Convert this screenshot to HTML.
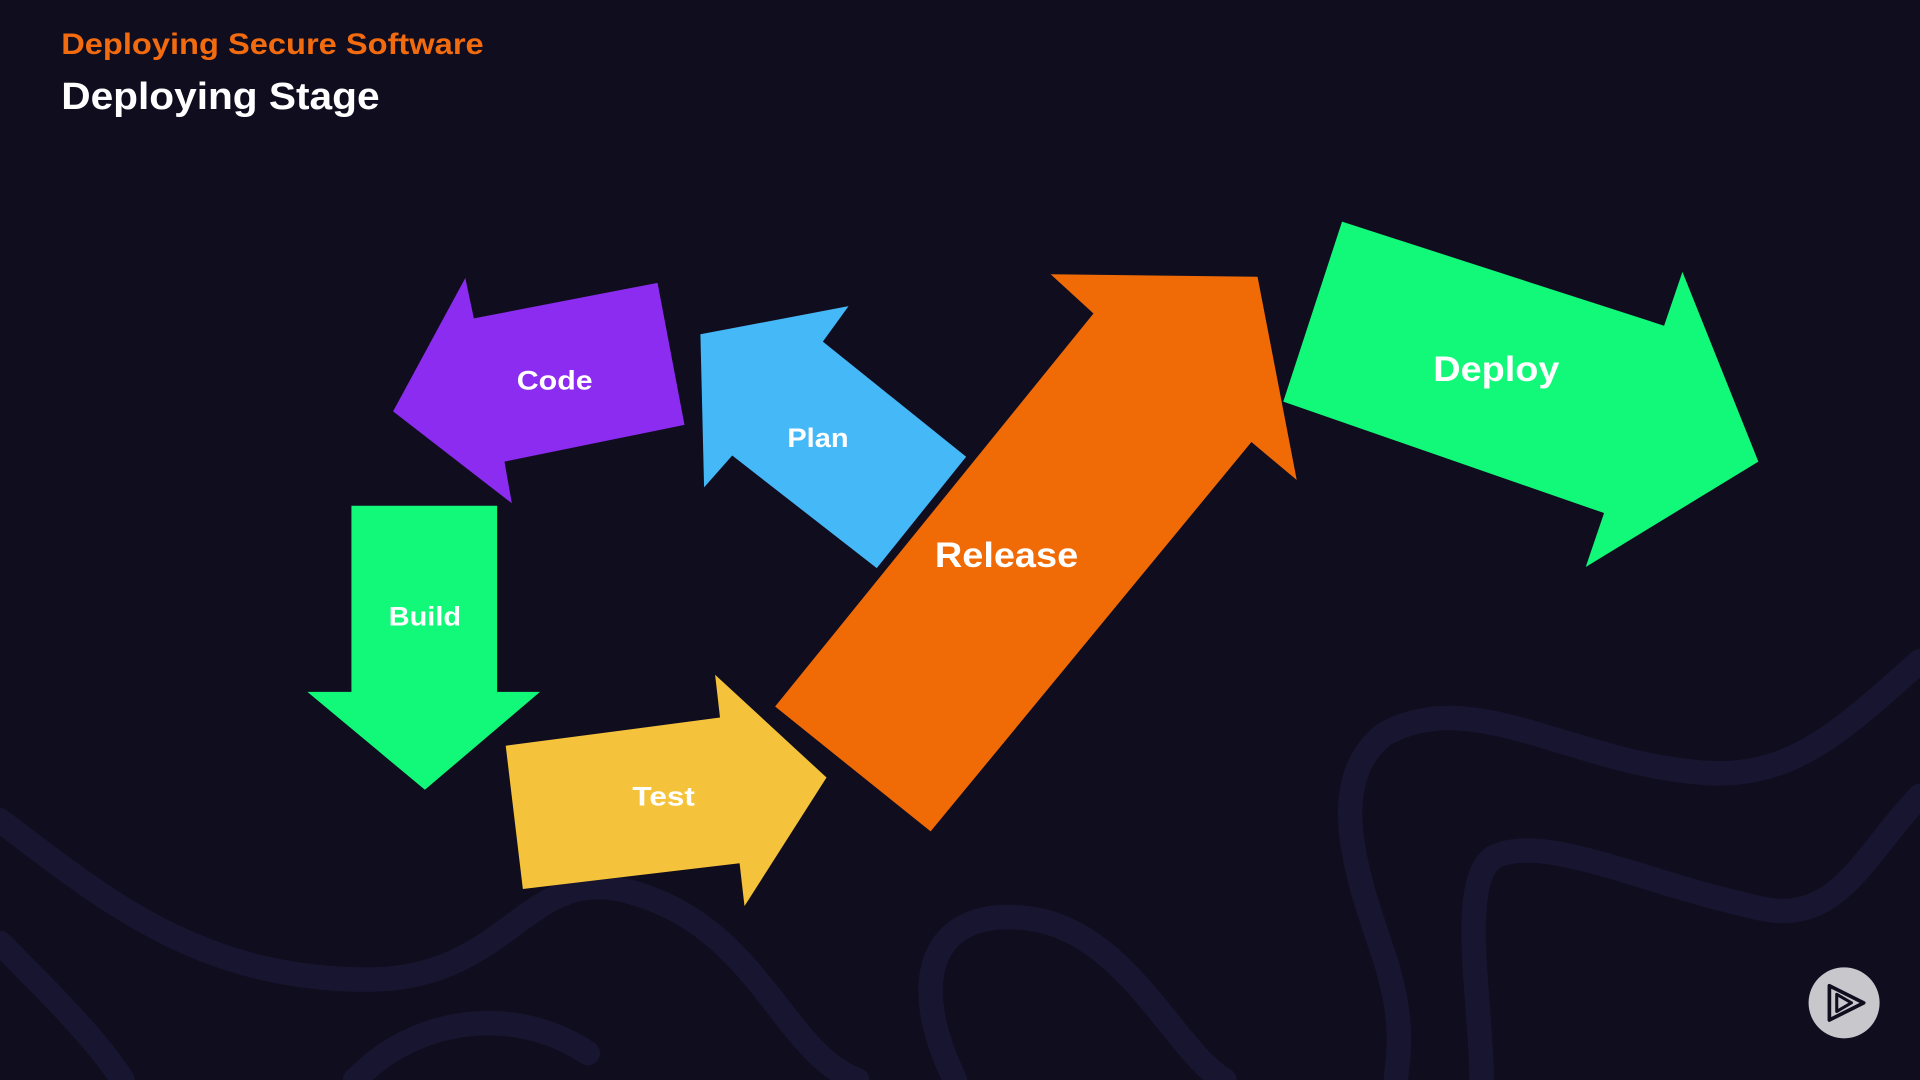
<!DOCTYPE html>
<html><head><meta charset="utf-8"><style>
html,body{margin:0;padding:0;background:#100d1f;width:1920px;height:1080px;overflow:hidden}
svg{display:block}
text{font-family:"Liberation Sans",sans-serif;font-weight:bold}
</style></head><body>
<svg width="1920" height="1080" viewBox="0 0 1568 882" xmlns="http://www.w3.org/2000/svg">
<rect width="1568" height="882" fill="#100d1f"/>
<g fill="none" stroke="#181530" stroke-width="20" stroke-linecap="round">
<path d="M0,670 C80,730 160,800 300,800 C420,800 430,700 520,730 C620,760 640,860 700,882"/>
<path d="M0,770 C40,810 80,850 100,882"/>
<path d="M290,882 C340,830 420,820 480,860"/>
<path d="M780,882 C740,800 760,740 840,750 C920,760 960,860 1000,882"/>
<path d="M1568,540 C1500,600 1460,640 1380,630 C1280,620 1200,560 1130,600 C1080,640 1110,720 1130,780 C1150,840 1140,870 1140,882"/>
<path d="M1568,650 C1520,700 1500,760 1430,740 C1340,720 1260,680 1220,700 C1190,720 1210,820 1210,882"/>
</g>
<text x="50" y="44" font-size="24" fill="#f26b0f" textLength="345" lengthAdjust="spacingAndGlyphs">Deploying Secure Software</text>
<text x="50" y="89" font-size="31" fill="#ffffff" textLength="260" lengthAdjust="spacingAndGlyphs">Deploying Stage</text>
<polygon points="380,227 321,336 418,411 412,377 559,347 537,231 387,260" fill="#8b2cf0"/>
<polygon points="572,273 693,250 672,279 789,373 716,464 598,372 575,398" fill="#45b8f8"/>
<polygon points="633,577 893,256 858,224 1027,226 1059,392 1022,361 760,679" fill="#f06a06"/>
<polygon points="1096,181 1359,266 1374,222 1436,377 1295,463 1310,419 1048,328" fill="#12f97a"/>
<polygon points="287,413 406,413 406,565 441,565 347,645 251,565 287,565" fill="#12f97a"/>
<polygon points="413,609 588,586 584,551 675,635 608,740 604,705 427,726" fill="#f5c33b"/>
<g fill="#ffffff" text-anchor="middle">
<text x="453" y="318" font-size="22" textLength="62" lengthAdjust="spacingAndGlyphs">Code</text>
<text x="668" y="365" font-size="22" textLength="50" lengthAdjust="spacingAndGlyphs">Plan</text>
<text x="822" y="463" font-size="29" textLength="117" lengthAdjust="spacingAndGlyphs">Release</text>
<text x="1222" y="311" font-size="29" textLength="103" lengthAdjust="spacingAndGlyphs">Deploy</text>
<text x="347" y="511" font-size="22" textLength="59" lengthAdjust="spacingAndGlyphs">Build</text>
<text x="542" y="658" font-size="22" textLength="51" lengthAdjust="spacingAndGlyphs">Test</text>
</g>
<circle cx="1506" cy="819" r="29" fill="#c8c8cc"/>
<polygon points="1494,805 1522,819 1494,833" fill="none" stroke="#100d1f" stroke-width="3" stroke-linejoin="round"/>
<polygon points="1500,812 1512,819 1500,826" fill="none" stroke="#100d1f" stroke-width="2.5" stroke-linejoin="round"/>
</svg>
</body></html>
